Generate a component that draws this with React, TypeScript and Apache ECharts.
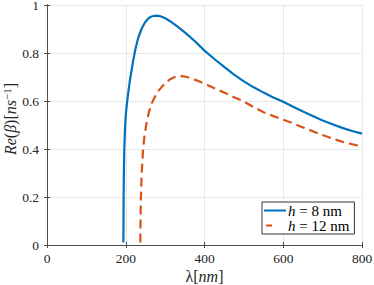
import React, { useEffect, useRef } from "react";
import * as echarts from "echarts";

const xTicks = [0, 200, 400, 600, 800];
const yTicks = [0, 0.2, 0.4, 0.6, 0.8, 1];

const seriesNames = ["h = 8 nm", "h = 12 nm"];

const h8Lambda = [194, 194.3, 194.6, 195.3, 196.3, 198, 200, 203, 206, 210, 214, 219, 225, 232, 240, 248, 256, 264, 272, 280, 290, 300, 315, 330, 350, 375, 400, 425, 450, 475, 500, 525, 550, 575, 600, 625, 650, 675, 700, 725, 750, 775, 800];
const h8Value = [0.01, 0.1, 0.2, 0.3, 0.4, 0.48, 0.54, 0.59, 0.63, 0.68, 0.72, 0.77, 0.82, 0.865, 0.9, 0.925, 0.942, 0.951, 0.955, 0.956, 0.952, 0.945, 0.93, 0.912, 0.886, 0.85, 0.81, 0.775, 0.742, 0.71, 0.682, 0.657, 0.635, 0.615, 0.597, 0.576, 0.556, 0.537, 0.519, 0.503, 0.488, 0.475, 0.464];

const h12Lambda = [237, 237.5, 238.5, 240.5, 244, 248, 253, 259, 266, 274, 283, 292, 302, 312, 323, 335, 347, 360, 380, 400, 425, 450, 475, 500, 525, 550, 575, 600, 625, 650, 675, 700, 725, 750, 775, 800];
const h12Value = [0.01, 0.1, 0.2, 0.3, 0.4, 0.46, 0.51, 0.555, 0.59, 0.618, 0.642, 0.66, 0.677, 0.69, 0.699, 0.704, 0.703, 0.698, 0.686, 0.672, 0.653, 0.635, 0.616, 0.598, 0.574, 0.553, 0.537, 0.522, 0.507, 0.49, 0.474, 0.458, 0.443, 0.43, 0.42, 0.41];

const BLUE = "#0072BD";
const RED = "#D95319";
const AXIS = "#4d4d4d";
const TXT = "#262626";
const FONT = "'Liberation Serif', 'DejaVu Serif', serif";

function pairs(xs: number[], ys: number[]) {
  return xs.map((x, i) => [x, ys[i]]);
}

export default function App() {
  const ref = useRef<HTMLDivElement>(null);
  useEffect(() => {
    if (!ref.current) return;
    const chart = echarts.init(ref.current, undefined, { renderer: "svg" });
    const axisCommon = {
      type: "value" as const,
      nameMoveOverlap: false,
      axisLine: { show: true, lineStyle: { color: AXIS, width: 1 } },
      axisTick: { show: true, inside: true, length: 3, lineStyle: { color: AXIS } },
    };
    chart.setOption({
      animation: false,
      backgroundColor: "#fff",
      grid: { left: 47, right: 12, top: 5, bottom: 40, containLabel: false, outerBoundsMode: "none" },
      xAxis: [
        {
          ...axisCommon,
          position: "bottom",
          min: xTicks[0],
          max: xTicks[xTicks.length - 1],
          interval: 200,
          axisLabel: { fontFamily: FONT, fontSize: 13.5, color: TXT, margin: 6 },
          splitLine: { show: true, lineStyle: { color: "#e8e8e8", width: 1 } },
          name: "{a|λ}{a|[}{i|nm}{a|]}",
          nameLocation: "middle",
          nameGap: 22,
          nameTextStyle: {
            fontFamily: FONT,
            fontSize: 16,
            color: TXT,
            rich: {
              a: { fontFamily: FONT, fontSize: 16, color: TXT, lineHeight: 18 },
              i: { fontFamily: FONT, fontSize: 16, fontStyle: "italic", color: TXT, lineHeight: 18 },
            },
          },
        },
        {
          ...axisCommon,
          position: "top",
          min: xTicks[0],
          max: xTicks[xTicks.length - 1],
          interval: 200,
          axisLabel: { show: false },
          splitLine: { show: false },
        },
      ],
      yAxis: [
        {
          ...axisCommon,
          position: "left",
          min: yTicks[0],
          max: yTicks[yTicks.length - 1],
          interval: 0.2,
          axisLabel: { fontFamily: FONT, fontSize: 13.5, color: TXT, margin: 8, lineHeight: 10 },
          splitLine: { show: true, lineStyle: { color: "#e8e8e8", width: 1 } },
          name: "{i|Re}{b|(}{i|β}{b|)[}{i|ns}{s|−1}{b|]}",
          nameLocation: "middle",
          nameGap: 28,
          nameTextStyle: {
            fontFamily: FONT,
            fontSize: 16,
            color: TXT,
            padding: [0, 0, 0, 12],
            rich: {
              i: { fontFamily: FONT, fontSize: 16, fontStyle: "italic", color: TXT, lineHeight: 18 },
              b: { fontFamily: FONT, fontSize: 16, color: TXT, lineHeight: 18 },
              s: { fontFamily: FONT, fontSize: 11, color: TXT, verticalAlign: "top", lineHeight: 11 },
            },
          },
        },
        {
          ...axisCommon,
          position: "right",
          min: yTicks[0],
          max: yTicks[yTicks.length - 1],
          interval: 0.2,
          axisLabel: { show: false },
          splitLine: { show: false },
        },
      ],
      legend: {
        orient: "vertical",
        left: 262,
        top: 202,
        width: 91,
        padding: [1, 5, 1, 1],
        itemGap: 0,
        itemWidth: 22,
        itemHeight: 16,
        backgroundColor: "#fff",
        borderColor: "#333",
        borderWidth: 1,
        borderRadius: 0,
        itemStyle: { opacity: 0 },
        data: [
          { name: seriesNames[0] },
          { name: seriesNames[1], lineStyle: { type: [6, 30], dashOffset: -2 } },
        ],
        formatter: (name: string) => {
          const parts = name.split(" = ");
          return "{i|h} = " + parts[1];
        },
        textStyle: {
          fontFamily: FONT,
          fontSize: 15,
          color: "#000",
          padding: [0, 0, 0, -3],
          rich: {
            i: { fontFamily: FONT, fontSize: 15, fontStyle: "italic", color: "#000" },
          },
        },
      },
      series: [
        {
          name: seriesNames[0],
          type: "line",
          data: pairs(h8Lambda, h8Value),
          showSymbol: false,
          symbol: "none",
          lineStyle: { color: BLUE, width: 2.2, join: "round" },
          itemStyle: { color: BLUE },
          xAxisIndex: 0,
          yAxisIndex: 0,
        },
        {
          name: seriesNames[1],
          type: "line",
          data: pairs(h12Lambda, h12Value),
          showSymbol: false,
          symbol: "none",
          lineStyle: { color: RED, width: 2.2, type: [9, 5], join: "round" },
          itemStyle: { color: RED },
          xAxisIndex: 0,
          yAxisIndex: 0,
        },
      ],
    });
    return () => chart.dispose();
  }, []);
  return (
    <div
      ref={ref}
      style={{ position: "absolute", left: 0, top: 0, width: 374, height: 285 }}
    />
  );
}
